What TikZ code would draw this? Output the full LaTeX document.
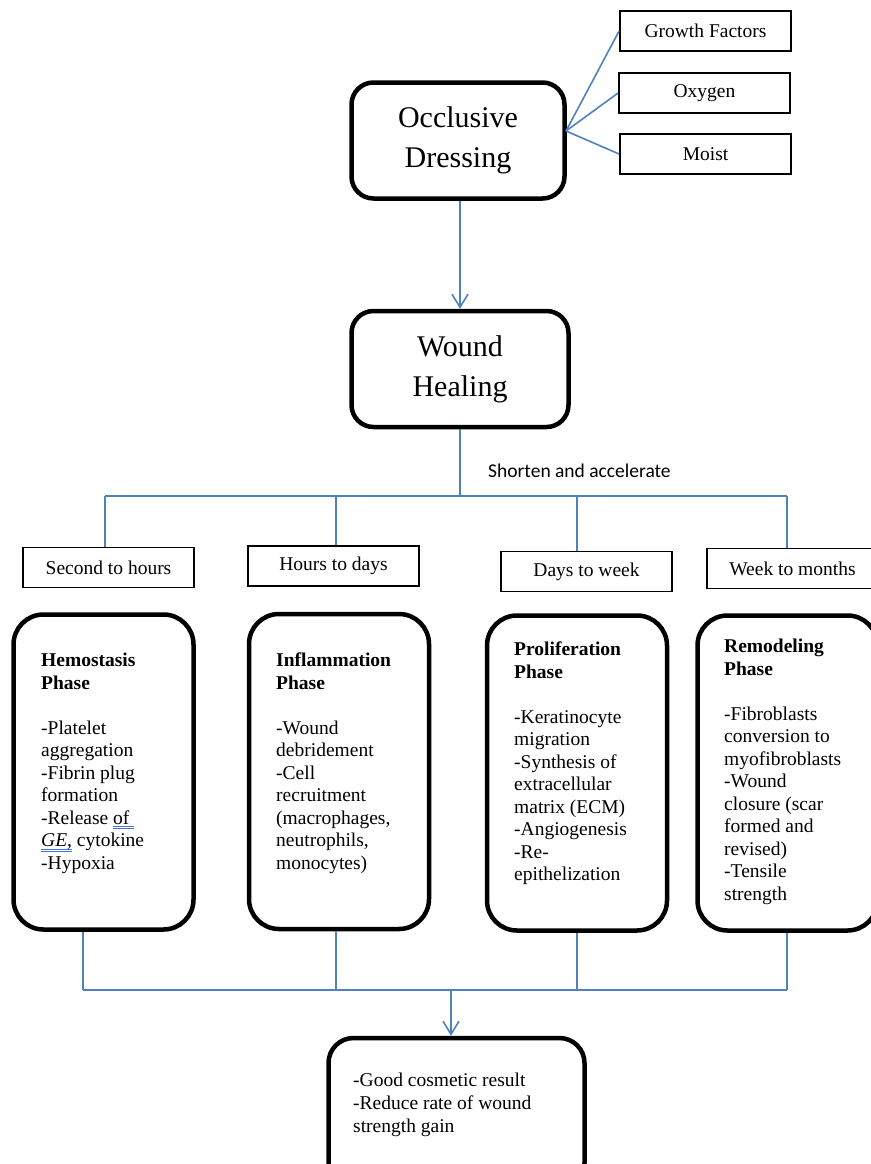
\documentclass[tikz,border=0pt]{standalone}
\usepackage{fontspec}
\setmainfont{Liberation Serif}
\newfontfamily\calfont{Carlito}
\usetikzlibrary{arrows.meta}
\definecolor{linkblue}{RGB}{79,129,189}
\definecolor{markblue}{RGB}{68,114,226}
% double blue mark under a word
\newsavebox\gramsave
\newcommand\gramline[1]{\sbox\gramsave{#1}\rlap{\textcolor{markblue}{\rule[-2.6pt]{\wd\gramsave}{0.8pt}}}\rlap{\textcolor{markblue}{\rule[-4.8pt]{\wd\gramsave}{0.8pt}}}\usebox\gramsave}
\begin{document}
\begin{tikzpicture}[x=1pt,y=-1pt,>={Straight Barb[length=13pt,width=16pt]},
  bigbox/.style={draw, line width=4.5pt, rounded corners=22pt, align=center, inner sep=0pt,
    minimum width=213pt, minimum height=116pt, font=\fontsize{30}{40}\selectfont},
  tagbox/.style={draw, line width=1.8pt, inner sep=0pt, minimum width=171pt, minimum height=40pt,
    font=\fontsize{19.5}{22.5}\selectfont},
  phasebox/.style={draw, line width=4.5pt, rounded corners=30pt, minimum width=180pt, minimum height=315pt},
  phasetext/.style={anchor=north west, inner sep=0pt, align=left,
    font=\fontsize{19.5}{22.5}\selectfont},
  link/.style={draw=linkblue, line width=1.6pt}]
\useasboundingbox (0,0) rectangle (870,1164);
%%
% Top: dressing and what it keeps
\node[bigbox] (occl) at (458,140.5) {Occlusive\\Dressing};
\node[tagbox] (gf) at (705.5,31) {Growth Factors};
\node[tagbox] (oxy) at (704.5,93) {Oxygen};
\node[tagbox] (moist) at (705.5,154) {Moist};
\coordinate (hub) at (566,131);
\draw[link] (hub) -- (gf.west);
\draw[link] (hub) -- (oxy.west);
\draw[link] (hub) -- (moist.west);
% Wound healing
\node[bigbox, minimum width=217pt] (wound) at (460,369) {Wound\\Healing};
\draw[link,->] (occl.south -| wound.north) -- (wound.north);
\node[anchor=west, inner sep=0pt, font=\calfont\fontsize{19.5}{22.5}\selectfont] (accel) at (488,471) {Shorten and accelerate};
% Time spans
\node[tagbox] (sec) at (108.5,567.5) {Second to hours};
\node[tagbox] (hrs) at (333.5,566) {Hours to days};
\node[tagbox] (days) at (586.5,571.5) {Days to week};
\node[tagbox] (week) at (792.5,568.5) {Week to months};
\coordinate (split) at (wound.south |- 0,496);
\draw[link] (wound.south) -- (split);
\draw[link] (105,496) -- (787,496);
\foreach \x/\t in {105/sec, 336/hrs, 577/days, 787/week}
  \draw[link] (\x,496) -- (\x,0 |- \t.north);
% Phases
\node[phasebox] (hemo) at (103.5,772) {};
\node[phasebox] (infl) at (339,771.5) {};
\node[phasebox] (prolif) at (577,773) {};
\node[phasebox] (remod) at (787.5,773) {};
\node[phasetext] (hemotxt) at (41,653) {\textbf{Hemostasis}\\ \textbf{Phase}\\[22.5pt]
  -Platelet\\ aggregation\\ -Fibrin plug\\ formation\\ -Release \gramline{of\ }\\
  \gramline{\textit{GE},} cytokine\\ -Hypoxia};
\node[phasetext] (infltxt) at (276,653) {\textbf{Inflammation}\\ \textbf{Phase}\\[22.5pt]
  -Wound\\ debridement\\ -Cell\\ recruitment\\ (macrophages,\\ neutrophils,\\ monocytes)};
\node[phasetext] (proliftxt) at (514,642) {\textbf{Proliferation}\\ \textbf{Phase}\\[22.5pt]
  -Keratinocyte\\ migration\\ -Synthesis of\\ extracellular\\ matrix (ECM)\\ -Angiogenesis\\
  -Re-\\ epithelization};
\node[phasetext] (remodtxt) at (724,639) {\textbf{Remodeling}\\ \textbf{Phase}\\[22.5pt]
  -Fibroblasts\\ conversion to\\ myofibroblasts\\ -Wound\\ closure (scar\\ formed and\\
  revised)\\ -Tensile\\ strength};
% Outcome
\node[draw, line width=4.5pt, rounded corners=25pt, minimum width=256pt, minimum height=150pt] (res) at (456.5,1113) {};
\node[phasetext, font=\fontsize{19.5}{23}\selectfont] (restxt) at (353,1073)
  {-Good cosmetic result\\ -Reduce rate of wound\\ strength gain};
\foreach \x/\p in {83/hemo, 336/infl, 577/prolif, 787/remod}
  \draw[link] (\x,0 |- \p.south) -- (\x,990);
\draw[link] (83,990) -- (787,990);
\draw[link,->] (451,990) -- (451,0 |- res.north);
%
\end{tikzpicture}
\end{document}
